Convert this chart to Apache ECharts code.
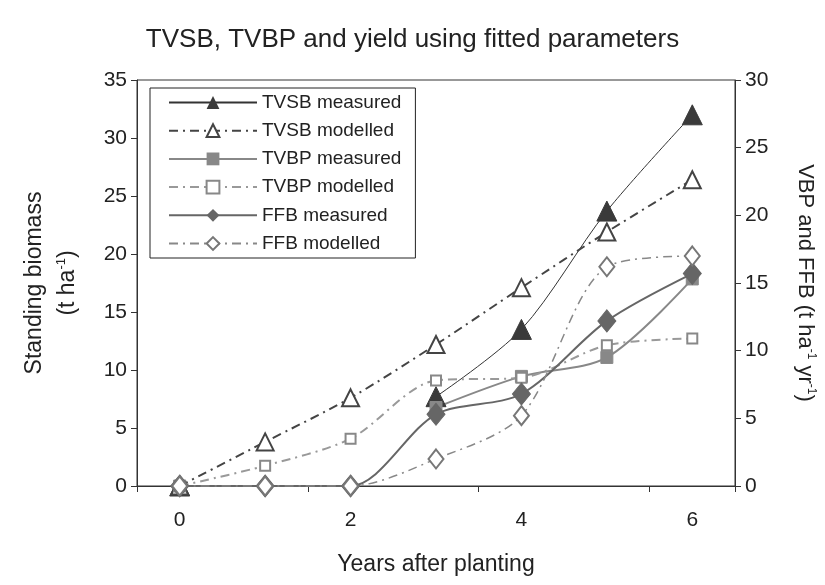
<!DOCTYPE html>
<html>
<head>
<meta charset="utf-8">
<script src="https://cdn.jsdelivr.net/npm/echarts@6/dist/echarts.min.js"></script>
<style>html,body{margin:0;padding:0;background:#fff}#c{width:825px;height:585px}</style>
</head>
<body>
<div id="c"></div>
<script>
var years = ['0','1','2','3','4','5','6'];
var tvsbMeasured = [0, null, null, 7.7, 13.5, 23.7, 32.0];
var tvsbModelled = [0, 3.8, 7.6, 12.2, 17.1, 21.9, 26.4];
var tvbpMeasured = [0, null, null, 5.8, 8.1, 9.5, 15.3];
var tvbpModelled = [0, 1.5, 3.5, 7.8, 8.0, 10.4, 10.9];
var ffbMeasured = [0, 0, 0, 5.3, 6.8, 12.2, 15.7];
var ffbModelled = [0, 0, 0, 2.0, 5.2, 16.2, 17.0];

var font = 'Liberation Sans, Arial, sans-serif';
var dashDot = [9, 5, 2, 5];

var chart = echarts.init(document.getElementById('c'));
chart.setOption({
  animation: false,
  backgroundColor: '#fff',
  textStyle: {fontFamily: font},
  title: {
    text: 'TVSB, TVBP and yield using fitted parameters',
    left: 'center', top: 22,
    textStyle: {fontFamily: font, fontSize: 26, fontWeight: 'normal', color: '#222'}
  },
  legend: {
    orient: 'vertical', left: 150, top: 88,
    padding: [5, 14, 5, 18],
    itemWidth: 88, itemHeight: 16, itemGap: 9.2,
    borderColor: '#222', borderWidth: 1, backgroundColor: '#fff',
    textStyle: {fontFamily: font, fontSize: 19, color: '#222'},
    data: ['TVSB measured','TVSB modelled','TVBP measured','TVBP modelled','FFB measured','FFB modelled']
  },
  grid: {left: 137, right: 87, top: 80, bottom: 99, show: true, borderColor: '#333', borderWidth: 1},
  xAxis: {
    type: 'category', data: years, boundaryGap: true,
    name: 'Years after planting', nameLocation: 'middle', nameGap: 67,
    nameTextStyle: {fontFamily: font, fontSize: 23, color: '#222'},
    axisLine: {lineStyle: {color: '#333', width: 1}},
    axisTick: {show: true, interval: 1, length: 6, lineStyle: {color: '#333'}},
    axisLabel: {interval: 1, margin: 24, fontSize: 21, color: '#222', fontFamily: font},
    splitLine: {show: false}
  },
  yAxis: [{
    type: 'value', min: 0, max: 35, interval: 5,
    name: '{a|Standing biomass}\n{a|(t ha}{s|-1}{a|)}', nameLocation: 'middle', nameGap: 53, nameRotate: 90,
    nameTextStyle: {rich: {a: {fontFamily: font, fontSize: 23, color: '#222', lineHeight: 33}, s: {fontFamily: font, fontSize: 13, color: '#222', lineHeight: 33, padding: [0,0,12,0]}}},
    axisLine: {show: true, lineStyle: {color: '#333', width: 1}},
    axisTick: {show: true, length: 6, lineStyle: {color: '#333'}},
    axisLabel: {margin: 10, fontSize: 21, color: '#222', fontFamily: font},
    splitLine: {show: false}
  }, {
    type: 'value', min: 0, max: 30, interval: 5, position: 'right',
    name: '{a|VBP and FFB (t ha}{s|-1}{a| yr}{s|-1}{a|)}', nameLocation: 'middle', nameGap: 58, nameRotate: -90,
    nameTextStyle: {rich: {a: {fontFamily: font, fontSize: 22, color: '#222'}, s: {fontFamily: font, fontSize: 12, color: '#222', padding: [0,0,12,0]}}},
    axisLine: {show: true, lineStyle: {color: '#333', width: 1}},
    axisTick: {show: true, length: 6, lineStyle: {color: '#333'}},
    axisLabel: {margin: 10, fontSize: 21, color: '#222', fontFamily: font},
    splitLine: {show: false}
  }],
  series: [
    {name: 'TVSB measured', type: 'line', yAxisIndex: 0, data: tvsbMeasured, smooth: 0.3,
     symbol: 'triangle', symbolSize: 20,
     lineStyle: {color: '#333', width: 1}, itemStyle: {color: '#3a3a3a', borderColor: '#3a3a3a'}},
    {name: 'TVSB modelled', type: 'line', yAxisIndex: 0, data: tvsbModelled, smooth: 0.3,
     symbol: 'triangle', symbolSize: 17,
     lineStyle: {color: '#444', width: 2, type: dashDot}, itemStyle: {color: '#fff', borderColor: '#444', borderWidth: 2}},
    {name: 'TVBP measured', type: 'line', yAxisIndex: 1, data: tvbpMeasured, smooth: 0.3,
     symbol: 'rect', symbolSize: 12,
     lineStyle: {color: '#888', width: 2}, itemStyle: {color: '#888', borderColor: '#888'}},
    {name: 'TVBP modelled', type: 'line', yAxisIndex: 1, data: tvbpModelled, smooth: 0.3,
     symbol: 'rect', symbolSize: 10,
     lineStyle: {color: '#999', width: 2, type: dashDot}, itemStyle: {color: '#fff', borderColor: '#888', borderWidth: 2}},
    {name: 'FFB measured', type: 'line', yAxisIndex: 1, data: ffbMeasured, smooth: 0.3,
     symbol: 'diamond', symbolSize: [18, 22],
     lineStyle: {color: '#666', width: 2}, itemStyle: {color: '#666', borderColor: '#666'}},
    {name: 'FFB modelled', type: 'line', yAxisIndex: 1, data: ffbModelled, smooth: 0.3,
     symbol: 'diamond', symbolSize: [15, 19],
     lineStyle: {color: '#888', width: 1.5, type: dashDot}, itemStyle: {color: '#fff', borderColor: '#777', borderWidth: 2}}
  ]
});
</script>
</body>
</html>
